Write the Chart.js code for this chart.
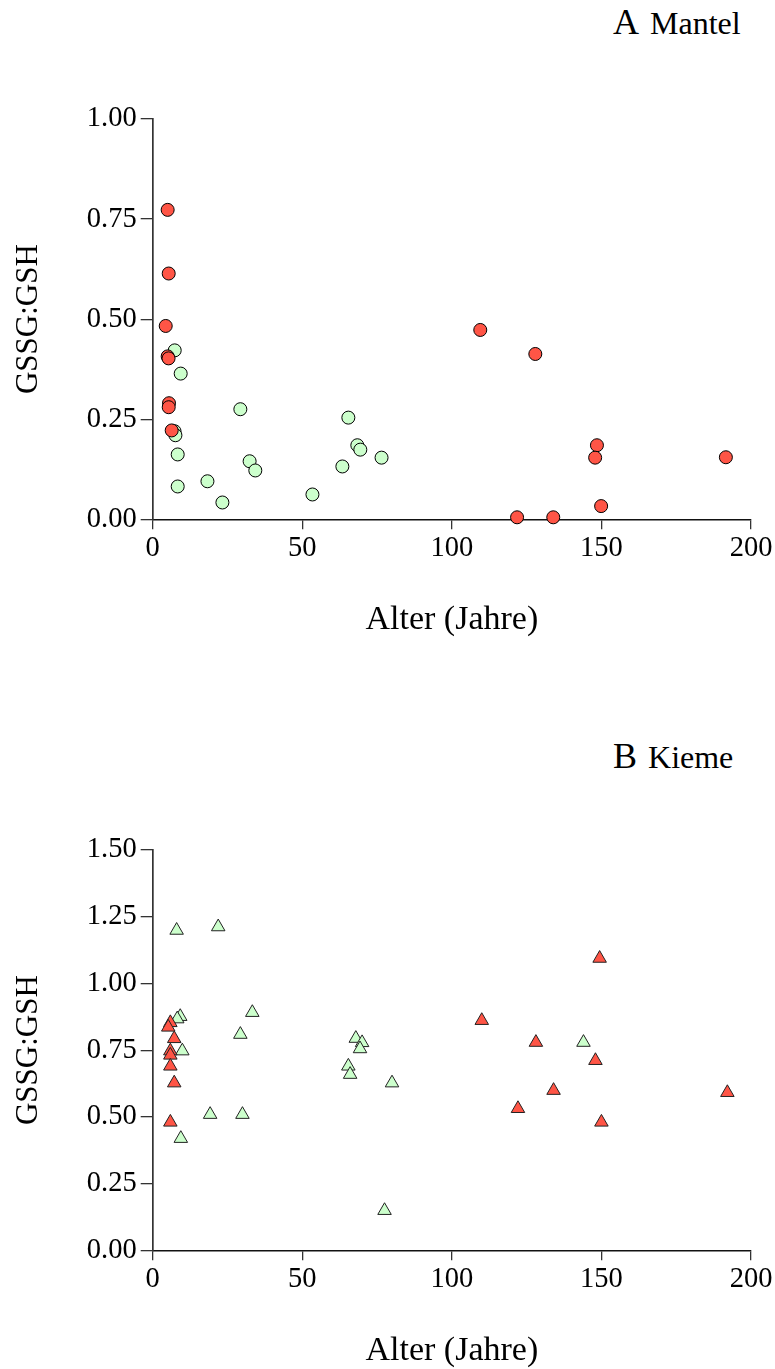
<!DOCTYPE html>
<html><head><meta charset="utf-8">
<script src="https://cdn.jsdelivr.net/npm/chart.js@4.4.1/dist/chart.umd.min.js"></script>
<style>
html,body{margin:0;padding:0;background:#fff;}
body{width:775px;height:1369px;position:relative;overflow:hidden;font-family:"Liberation Serif","Times New Roman",serif;}
.wrap{position:absolute;left:0;width:775px;height:660px;}
.ttl{position:absolute;left:613px;white-space:nowrap;font-size:32px;line-height:40px;color:#000;}
.ttl .big{font-size:36px;}
.ttl .small{margin-left:11px;}
</style></head><body>
<div class="ttl" style="top:2px"><span class="big">A</span><span class="small">Mantel</span></div>
<div class="wrap" style="top:0px"><canvas id="cA"></canvas></div>
<div class="ttl" style="top:736px"><span class="big">B</span><span class="small">Kieme</span></div>
<div class="wrap" style="top:731px"><canvas id="cB"></canvas></div>
<script>
// ---- Daten ----
const xTicks = [0, 50, 100, 150, 200];
const xLabels = ['0', '50', '100', '150', '200'];
const yTicksA = [0, 0.25, 0.5, 0.75, 1.0];
const yLabelsA = ['0.00', '0.25', '0.50', '0.75', '1.00'];
const yTicksB = [0, 0.25, 0.5, 0.75, 1.0, 1.25, 1.5];
const yLabelsB = ['0.00', '0.25', '0.50', '0.75', '1.00', '1.25', '1.50'];

// A Mantel
const mantelRotAlter = [5.0, 5.35, 4.35, 5.0, 5.3, 5.45, 5.35, 6.35, 109.5, 127.9, 148.5, 147.9, 191.6, 149.9, 121.8, 133.9];
const mantelRotWert  = [0.773, 0.614, 0.483, 0.407, 0.402, 0.29, 0.28, 0.222, 0.473, 0.413, 0.185, 0.154, 0.155, 0.033, 0.005, 0.005];
const mantelGruenAlter = [7.36, 9.36, 7.3, 7.6, 8.36, 8.36, 18.3, 23.3, 29.3, 32.4, 34.3, 53.4, 63.4, 65.4, 68.4, 69.4, 76.5];
const mantelGruenWert  = [0.422, 0.364, 0.22, 0.21, 0.162, 0.082, 0.095, 0.042, 0.275, 0.145, 0.122, 0.062, 0.132, 0.254, 0.185, 0.174, 0.154];

// B Kieme
const kiemeRotAlter = [5.9, 5.2, 7.2, 5.9, 5.9, 5.9, 7.2, 5.9, 149.4, 110.0, 128.1, 148.0, 134.0, 192.1, 122.1, 150.0];
const kiemeRotWert  = [0.853, 0.836, 0.793, 0.747, 0.731, 0.69, 0.627, 0.48, 1.094, 0.861, 0.779, 0.711, 0.599, 0.591, 0.531, 0.48];
const kiemeGruenAlter = [8.0, 21.9, 33.3, 9.2, 8.2, 29.3, 9.9, 19.2, 30.0, 9.4, 67.9, 70.0, 69.3, 65.4, 66.0, 80.0, 77.5, 144.0];
const kiemeGruenWert  = [1.199, 1.212, 0.891, 0.876, 0.867, 0.809, 0.747, 0.509, 0.509, 0.419, 0.794, 0.778, 0.755, 0.69, 0.659, 0.627, 0.149, 0.779];

const FAM = '"Liberation Serif", "Times New Roman", serif';
const RED = '#FF5546';
const GREEN = '#CCFFCC';

function pts(xs, ys) { return xs.map((x, i) => ({x: x, y: ys[i]})); }

function makeChart(id, rx, ry, gx, gy, yTicks, yLabels, yMax, style, radius, bc) {
  return new Chart(document.getElementById(id), {
    type: 'scatter',
    data: {
      datasets: [
        {label: 'rot', data: pts(rx, ry), pointStyle: style, pointRadius: radius, pointHoverRadius: radius,
         backgroundColor: RED, borderColor: bc, borderWidth: 1, clip: false},
        {label: 'grün', data: pts(gx, gy), pointStyle: style, pointRadius: radius, pointHoverRadius: radius,
         backgroundColor: GREEN, borderColor: bc, borderWidth: 1, clip: false}
      ]
    },
    options: {
      responsive: true, maintainAspectRatio: false, animation: false,
      events: [],
      layout: {padding: {left: 0, right: 24, top: 119, bottom: 0}},
      plugins: {legend: {display: false}, tooltip: {enabled: false}, title: {display: false}},
      scales: {
        x: {
          type: 'linear', min: 0, max: 200,
          afterBuildTicks: s => { s.ticks = xTicks.map(v => ({value: v})); },
          afterFit: s => { s.height = 140.7; s.paddingLeft = 0; s.paddingRight = 0; },
          grid: {drawOnChartArea: false, drawTicks: true, tickLength: 10, color: '#333', lineWidth: 1.3},
          border: {display: true, color: '#111', width: 1.5},
          ticks: {padding: 2, color: '#000', font: {family: FAM, size: 28.5}, maxRotation: 0, autoSkip: false,
                  callback: (v, i) => xLabels[i]},
          title: {display: true, text: 'Alter (Jahre)', color: '#000', font: {family: FAM, size: 34},
                  padding: {top: 0, bottom: 20}}
        },
        y: {
          type: 'linear', min: 0, max: yMax,
          afterBuildTicks: s => { s.ticks = yTicks.map(v => ({value: v})); },
          afterFit: s => { s.width = 152.7; s.paddingTop = 0; s.paddingBottom = 0; },
          grid: {drawOnChartArea: false, drawTicks: true, tickLength: 12, color: '#333', lineWidth: 1.3},
          border: {display: true, color: '#333', width: 1.7},
          ticks: {padding: 4, color: '#000', font: {family: FAM, size: 28.5}, autoSkip: false,
                  callback: (v, i) => yLabels[i]},
          title: {display: true, text: 'GSSG:GSH', color: '#000', font: {family: FAM, size: 31},
                  padding: {top: 10, bottom: 0}}
        }
      }
    }
  });
}

makeChart('cA', mantelRotAlter, mantelRotWert, mantelGruenAlter, mantelGruenWert, yTicksA, yLabelsA, 1.0, 'circle', 6.5, '#000');
makeChart('cB', kiemeRotAlter, kiemeRotWert, kiemeGruenAlter, kiemeGruenWert, yTicksB, yLabelsB, 1.5, 'triangle', 7.8, '#222');
</script>
</body></html>
